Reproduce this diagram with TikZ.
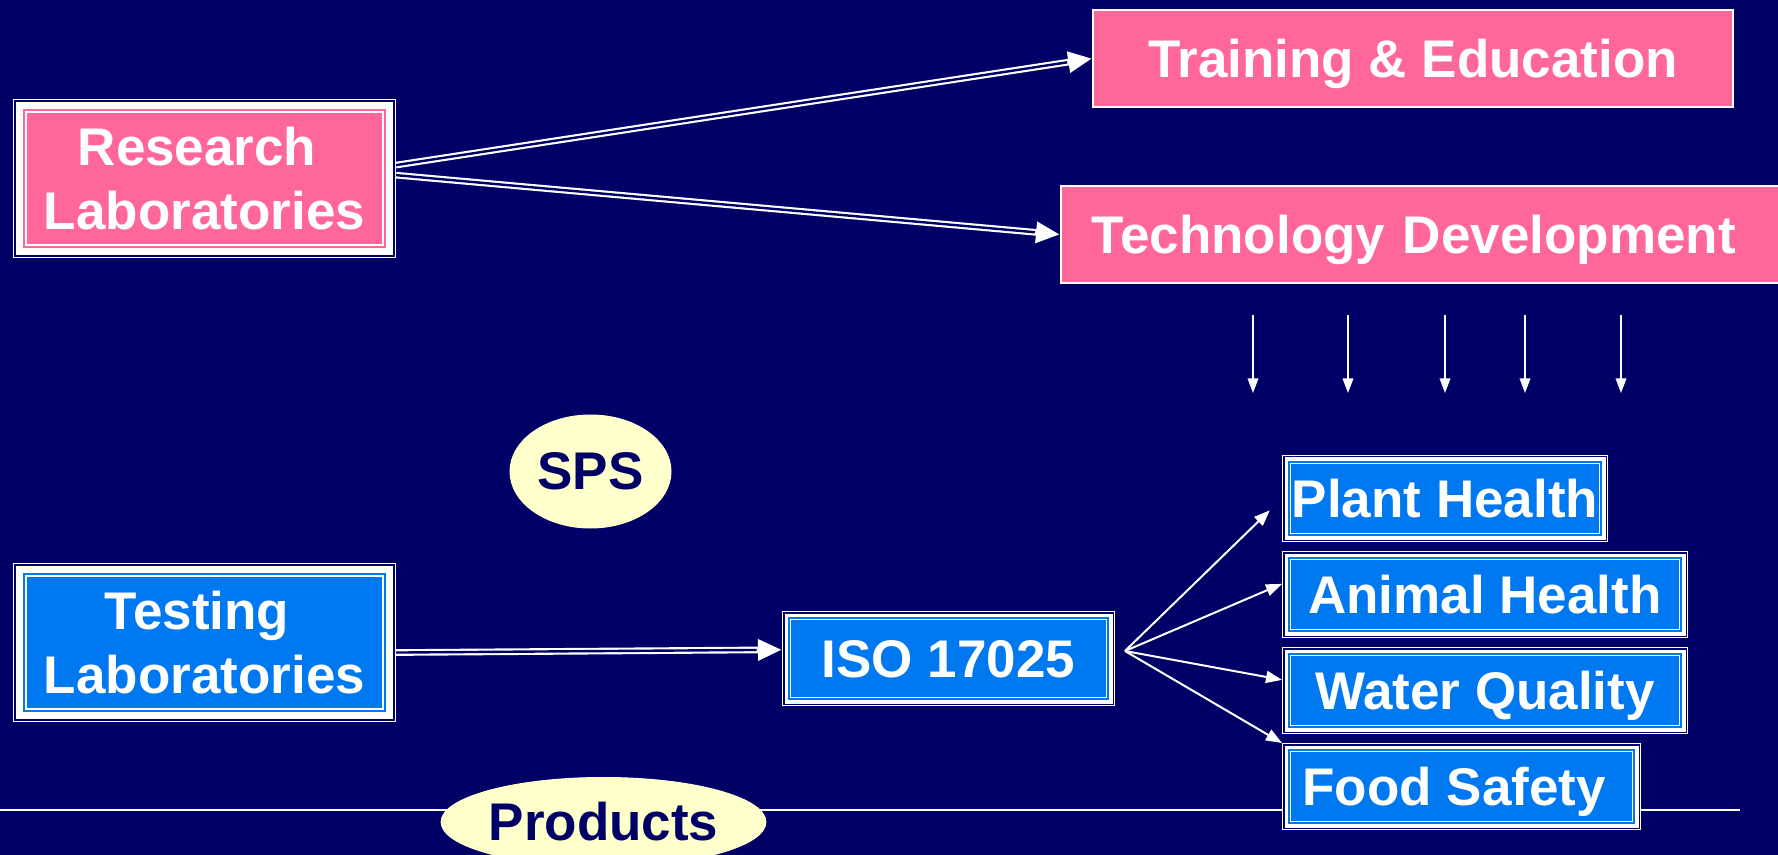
\documentclass[tikz,border=0pt]{standalone}
\usepackage{fontspec}
\setmainfont{Liberation Sans}
\usetikzlibrary{shapes.geometric,arrows.meta}

\definecolor{navy}{RGB}{0,0,102}
\definecolor{labpink}{RGB}{255,102,153}
\definecolor{labblue}{RGB}{0,120,240}
\definecolor{cream}{RGB}{255,255,204}

\tikzset{every picture/.style={line width=0.75pt}}
\tikzset{
	labtext/.style={font=\fontsize{39.75pt}{48.5pt}\selectfont\bfseries, text=white, inner sep=0pt, align=center},
	bigbox/.style={labtext, fill=#1, draw=white, line width=1.3pt, double=#1, double distance=1.7pt, outer sep=8.4pt, minimum width=270.5pt, minimum height=102.5pt, preaction={draw=white, line width=16.7pt}, preaction={draw=navy, line width=14.8pt}, preaction={draw=white, line width=12.2pt}},
	smallbox/.style={labtext, text depth=0pt, fill=labblue, draw=white, line width=1.1pt, double=labblue, double distance=1.5pt, outer sep=5.25pt, minimum height=54.75pt, preaction={draw=white, line width=10.5pt}, preaction={draw=navy, line width=9pt}, preaction={draw=white, line width=6.75pt}},
	plainbox/.style={labtext, text depth=0pt, fill=labpink, draw=white, line width=1.2pt, minimum height=72.75pt},
	oval/.style={ellipse, labtext, fill=cream, draw=cream, text=navy},
	dblarrow/.style={draw=white, line width=5pt, -{Triangle[length=18pt,width=15pt]}, postaction={draw=navy, line width=1.8pt, arrows=-, shorten >=19pt}},
	fanarrow/.style={draw=white, line width=1.5pt, -{Triangle[length=12pt,width=9pt]}},
	downarrow/.style={draw=white, line width=1.1pt, -{Triangle[length=11pt,width=8pt]}}
}

\begin{document}
\begin{tikzpicture}[x=0.75pt,y=0.75pt,yscale=-1,xscale=1]
	\useasboundingbox (0,0) rectangle (1778,855);
	\fill [navy] (0,0) rectangle (1778,855);
	\clip (0,0) rectangle (1778,855);

	%Products line
	\draw [white, line width=1.5pt] (0,810) -- (1740,810);

	% Text Node
	\node [bigbox=labpink] (res) at (204.5,178.5) {Research\hspace*{.28em}\\Laboratories};
	% Text Node
	\node [bigbox=labblue] (test) at (204.5,642.5) {Testing\hspace*{.28em}\\Laboratories};
	% Text Node
	\node [plainbox, minimum width=480pt] (train) at (1413,58.5) {Training \& Education};
	% Text Node
	\node [plainbox, anchor=west, align=left, text width=501pt, inner xsep=23.25pt] (tech) at (1060,234.5) {Technology Development};

	% Text Node
	\node [smallbox, minimum width=239.25pt, minimum height=60.75pt] (iso) at (948.5,658.5) {ISO 17025};
	\node [smallbox, minimum width=234pt] (plant) at (1445,498.5) {Plant Health};
	\node [smallbox, minimum width=294pt] (animal) at (1485,594.5) {Animal Health};
	\node [smallbox, minimum width=294pt] (water) at (1485,690.5) {Water Quality};
	\node [smallbox, minimum width=258.75pt] (food) at (1461.5,786.5) {Food Safety\ };

	%Shape: Ellipse
	\node [oval, minimum width=120.75pt, minimum height=84.75pt] (sps) at (590.5,471.5) {SPS};
	\node [oval, minimum width=240.75pt, minimum height=66.75pt] (prod) at (603.5,822) {Products};

	%Double Arrows
	\draw [dblarrow] (res.4.3) -- (train.west);
	\draw [dblarrow] (res.1.9) -- (tech.west);
	\draw [dblarrow] (test.357.5) -- (iso.177.4);

	%Straight Lines
	\coordinate (fan) at (1125,651);
	\draw [fanarrow, shorten >=12.7pt] (fan) -- (plant.west);
	\draw [fanarrow] (fan) -- (animal.177.9);
	\draw [fanarrow] (fan) -- (water.177.3);
	\draw [fanarrow] (fan) -- (food.north west);

	\foreach \x in {1253,1348,1445,1525,1621}
		\draw [downarrow] (\x,315) -- (\x,393);

\end{tikzpicture}
\end{document}
